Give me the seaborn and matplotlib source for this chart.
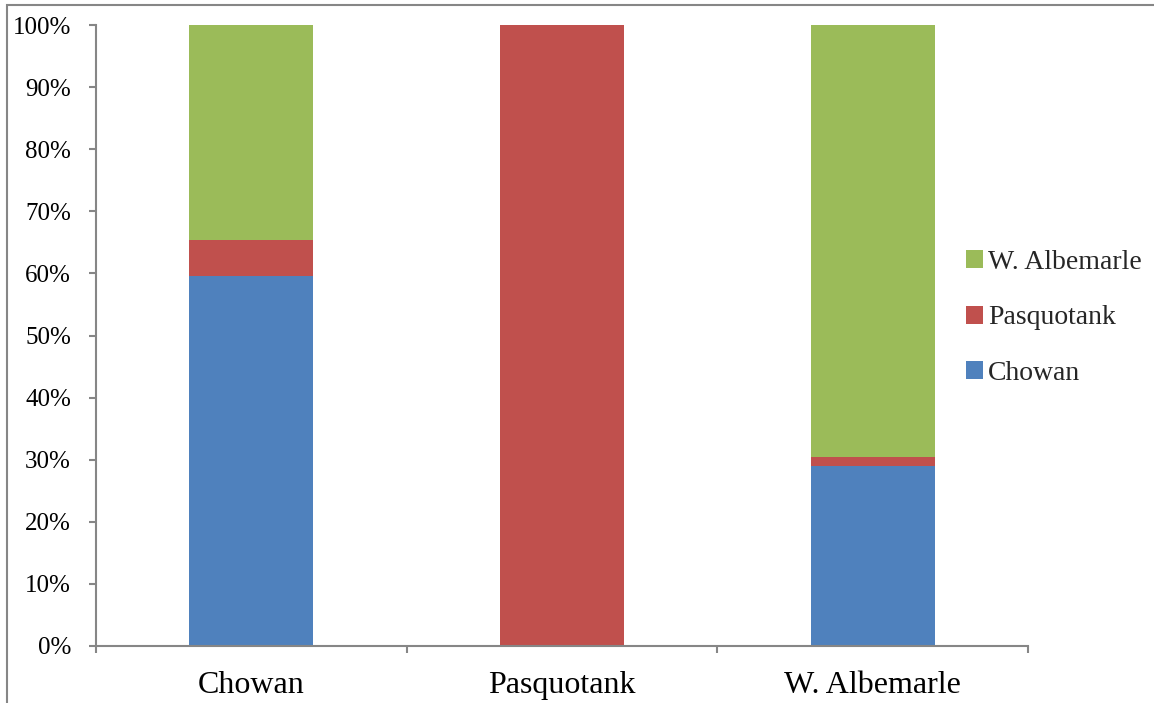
import matplotlib
matplotlib.use("Agg")
import matplotlib.pyplot as plt
import seaborn as sns
import pandas as pd
from matplotlib.patches import Rectangle, Patch
from matplotlib.ticker import PercentFormatter

sns.set_theme(style="white")
plt.rcParams["font.family"] = ["Liberation Serif", "DejaVu Serif"]

# Share of each destination (stacked to 100% per origin)
origins = ["Chowan", "Pasquotank", "W. Albemarle"]
chowan = [59.6, 0.0, 29.0]
pasquotank = [5.8, 100.0, 1.4]
w_albemarle = [34.6, 0.0, 69.6]

series_names = ["Chowan", "Pasquotank", "W. Albemarle"]
series_colors = ["#4F81BD", "#C0504D", "#9BBB59"]

df = pd.DataFrame({"origin": origins, "Chowan": chowan,
                   "Pasquotank": pasquotank, "W. Albemarle": w_albemarle})

fig = plt.figure(figsize=(11.54, 7.03), dpi=100)
ax = fig.add_axes([96 / 1154, 1 - 646 / 703, (1028 - 96) / 1154, (646 - 25) / 703])

bottom = pd.Series([0.0] * len(df))
for name, color in zip(series_names, series_colors):
    sns.barplot(data=df, x="origin", y=name, color=color, width=0.4,
                bottom=bottom.values, saturation=1, ax=ax, linewidth=0)
    bottom = bottom + df[name]

ax.set_xlim(-0.5, 2.5)
ax.set_ylim(0, 100)
ax.set_yticks(range(0, 101, 10))
ax.yaxis.set_major_formatter(PercentFormatter(decimals=0))
ax.set_xlabel("")
ax.set_ylabel("")

for side in ["top", "right"]:
    ax.spines[side].set_visible(False)
for side in ["left", "bottom"]:
    ax.spines[side].set_color("#868686")
    ax.spines[side].set_linewidth(1.5)

ax.tick_params(axis="y", which="major", direction="out", length=5, width=1.5,
               color="#868686", left=True, labelsize=18, pad=13, labelcolor="black")
ax.tick_params(axis="x", which="major", length=0, labelsize=23, pad=18,
               labelcolor="black")
ax.set_xticks([-0.5, 0.5, 1.5, 2.5], minor=True)
ax.tick_params(axis="x", which="minor", direction="out", length=5, width=1.5,
               color="#868686", bottom=True)

handles = [Patch(facecolor=c, edgecolor="none", label=n)
           for n, c in zip(series_names, series_colors)][::-1]
fig.legend(handles=handles, loc="center left", bbox_to_anchor=(955 / 1154, 1 - 318 / 703),
           frameon=False, fontsize=20, handlelength=0.6, handleheight=0.6,
           handletextpad=0.18, labelspacing=1.1, borderaxespad=0)

# Outer chart frame
fig.add_artist(Rectangle((7 / 1154, -0.1), 1.2, 1 - 5 / 703 + 0.1,
                         transform=fig.transFigure, fill=False,
                         edgecolor="#868686", linewidth=1.5))

fig.savefig("out.png", dpi=100)
